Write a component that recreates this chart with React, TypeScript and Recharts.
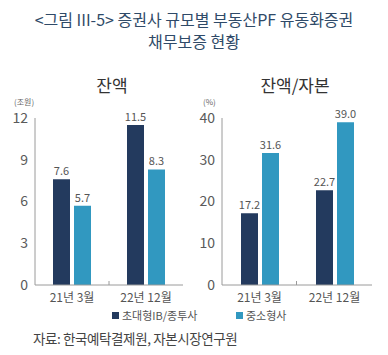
import { BarChart, Bar, XAxis, YAxis, LabelList } from "recharts";

const categories = ["21년 3월", "22년 12월"];
const seriesNames = ["초대형IB/종투사", "중소형사"];
const largeBalance = [7.6, 11.5];
const smallBalance = [5.7, 8.3];
const largeRatio = [17.2, 22.7];
const smallRatio = [31.6, 39.0];
const balanceTicks = [0, 3, 6, 9, 12];
const ratioTicks = [0, 10, 20, 30, 40];

const NAVY = "#233a5e";
const TEAL = "#3198c0";
const BORDER = "#9a9a9a";
const FONT = "'Noto Sans CJK KR', 'Noto Sans', sans-serif";

const balanceData = categories.map((c, i) => ({
  name: c,
  large: largeBalance[i],
  small: smallBalance[i],
}));
const ratioData = categories.map((c, i) => ({
  name: c,
  large: largeRatio[i],
  small: smallRatio[i],
}));

const CatTick = ({ x, y, payload, index }: any) => (
  <g>
    {index === 0 && (
      <line x1={x + 37} x2={x + 37} y1={y} y2={y - 4} stroke={BORDER} />
    )}
    <text
      x={x}
      y={y + 17}
      textAnchor="middle"
      fontSize={12}
      fill="#555"
      fontFamily={FONT}
    >
      {payload.value}
    </text>
  </g>
);

function Panel({ data, ticks, right }: any) {
  return (
    <BarChart
      width={200}
      height={310}
      data={data}
      margin={{ top: 118, right, left: 0, bottom: 0 }}
      barSize={17}
      barGap={4}
    >
      <XAxis
        dataKey="name"
        height={25}
        stroke={BORDER}
        tickSize={0}
        tickMargin={0}
        tick={<CatTick />}
      />
      <XAxis
        xAxisId="top"
        dataKey="name"
        orientation="top"
        height={0}
        stroke={BORDER}
        tick={false}
        tickLine={false}
      />
      <YAxis
        width={35}
        domain={[0, ticks[ticks.length - 1]]}
        ticks={ticks}
        stroke={BORDER}
        tickLine={false}
        tickSize={0}
        tickMargin={7}
        tick={{ fontSize: 14, fill: "#5a5a5a", fontFamily: FONT }}
      />
      <YAxis
        yAxisId="r"
        orientation="right"
        width={0}
        domain={[0, ticks[ticks.length - 1]]}
        stroke={BORDER}
        tick={false}
        tickLine={false}
      />
      <Bar dataKey="large" fill={NAVY} isAnimationActive={false}>
        <LabelList
          dataKey="large"
          position="top"
          offset={4}
          formatter={(v: any) => Number(v).toFixed(1)}
          style={{ fontSize: 11, fill: "#555", fontFamily: FONT }}
        />
      </Bar>
      <Bar dataKey="small" fill={TEAL} isAnimationActive={false}>
        <LabelList
          dataKey="small"
          position="top"
          offset={4}
          formatter={(v: any) => Number(v).toFixed(1)}
          style={{ fontSize: 11, fill: "#555", fontFamily: FONT }}
        />
      </Bar>
    </BarChart>
  );
}

export default function App() {
  const abs = (s: any) => ({ position: "absolute" as const, ...s });
  const titleStyle = {
    left: 0,
    width: 388,
    textAlign: "center",
    fontSize: 16,
    lineHeight: "18px",
    color: "#2f4a68",
    whiteSpace: "nowrap",
  };
  return (
    <div
      style={{
        position: "absolute",
        left: 0,
        top: 0,
        width: 388,
        height: 355,
        background: "#fff",
        fontFamily: FONT,
        overflow: "hidden",
      }}
    >
      <div style={abs({ ...titleStyle, top: 10 })}>
        {"<그림 III-5> 증권사 규모별 부동산PF 유동화증권"}
      </div>
      <div style={abs({ ...titleStyle, top: 32 })}>채무보증 현황</div>

      <div style={abs({ left: 62, top: 75, width: 100, textAlign: "center", fontSize: 17, lineHeight: "20px", color: "#333" })}>
        잔액
      </div>
      <div style={abs({ left: 245, top: 75, width: 100, textAlign: "center", fontSize: 17, lineHeight: "20px", color: "#333" })}>
        잔액/자본
      </div>
      <div style={abs({ left: 14, top: 97, fontSize: 8, lineHeight: "9px", color: "#666" })}>(조원)</div>
      <div style={abs({ left: 203, top: 97, fontSize: 8, lineHeight: "9px", color: "#666" })}>(%)</div>

      <div style={abs({ left: 0, top: 0 })}>
        <Panel data={balanceData} ticks={balanceTicks} right={17} />
      </div>
      <div style={abs({ left: 187, top: 0 })}>
        <Panel data={ratioData} ticks={ratioTicks} right={15} />
      </div>

      {seriesNames.map((n, i) => (
        <div
          key={n}
          style={abs({
            left: i === 0 ? 112 : 236,
            top: 308,
            display: "flex",
            alignItems: "center",
            fontSize: 11,
            lineHeight: "14px",
            color: "#555",
          })}
        >
          <span
            style={{
              display: "inline-block",
              width: 7,
              height: 7,
              background: i === 0 ? NAVY : TEAL,
              marginRight: 3,
            }}
          />
          {n}
        </div>
      ))}

      <div style={abs({ left: 33, top: 330, fontSize: 13.5, lineHeight: "17px", color: "#444", letterSpacing: -0.4 })}>
        자료: 한국예탁결제원, 자본시장연구원
      </div>
    </div>
  );
}
